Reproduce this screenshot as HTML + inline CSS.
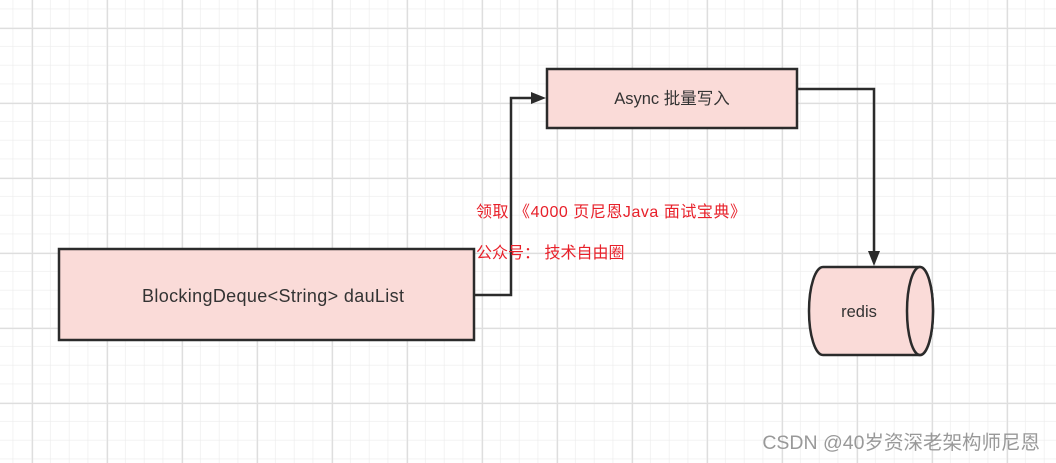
<!DOCTYPE html>
<html><head><meta charset="utf-8"><style>
html,body{margin:0;padding:0;width:1056px;height:463px;overflow:hidden;background:#fff;}
svg{display:block;}
text{font-family:"Liberation Sans","Noto Sans CJK SC",sans-serif;}
</style></head><body>
<svg width="1056" height="463" xmlns="http://www.w3.org/2000/svg">
<defs>
<pattern id="minor" x="-5.5" y="-9.5" width="18.75" height="18.75" patternUnits="userSpaceOnUse">
<path d="M18.75 0V18.75M0 18.75H18.75" stroke="#ececec" stroke-width="1.3" fill="none"/>
</pattern>
<pattern id="major" x="32" y="28" width="75" height="75" patternUnits="userSpaceOnUse">
<path d="M0.5 0V75M0 0.5H75" stroke="#dedede" stroke-width="1.3" fill="none"/>
</pattern>
</defs>
<rect width="1056" height="463" fill="url(#minor)"/>
<rect width="1056" height="463" fill="url(#major)"/>

<rect x="59" y="249" width="415" height="91" fill="#fadbd8" stroke="#2b2b2b" stroke-width="2.5"/>
<text x="273" y="302" font-size="18" fill="#333" text-anchor="middle" textLength="262">BlockingDeque&lt;String&gt; dauList</text>

<rect x="547" y="69" width="250" height="59" fill="#fadbd8" stroke="#2b2b2b" stroke-width="2.5"/>
<text x="672" y="104" font-size="16.5" fill="#333" text-anchor="middle">Async 批量写入</text>

<path d="M474 295H511V98H537" fill="none" stroke="#2b2b2b" stroke-width="2.5"/>
<path d="M546 98L531 92V104Z" fill="#2b2b2b"/>
<path d="M797 89H874V256" fill="none" stroke="#2b2b2b" stroke-width="2.5"/>
<path d="M874 266L868 251H880Z" fill="#2b2b2b"/>

<path d="M823 267H920A13 44 0 0 1 920 355H823A14 44 0 0 1 823 267Z" fill="#fadbd8" stroke="#2b2b2b" stroke-width="2.5"/>
<ellipse cx="920" cy="311" rx="13" ry="44" fill="#fadbd8" stroke="#2b2b2b" stroke-width="2.5"/>
<text x="859" y="317" font-size="16.5" fill="#333" text-anchor="middle">redis</text>

<text x="476" y="217" font-size="16" fill="#e8202a" textLength="270">领取 《4000 页尼恩Java 面试宝典》</text>
<text x="476" y="258" font-size="16" fill="#e8202a">公众号： 技术自由圈</text>

<text x="1040" y="449" font-size="19.5" fill="#999" text-anchor="end">CSDN @40岁资深老架构师尼恩</text>
</svg>
</body></html>
